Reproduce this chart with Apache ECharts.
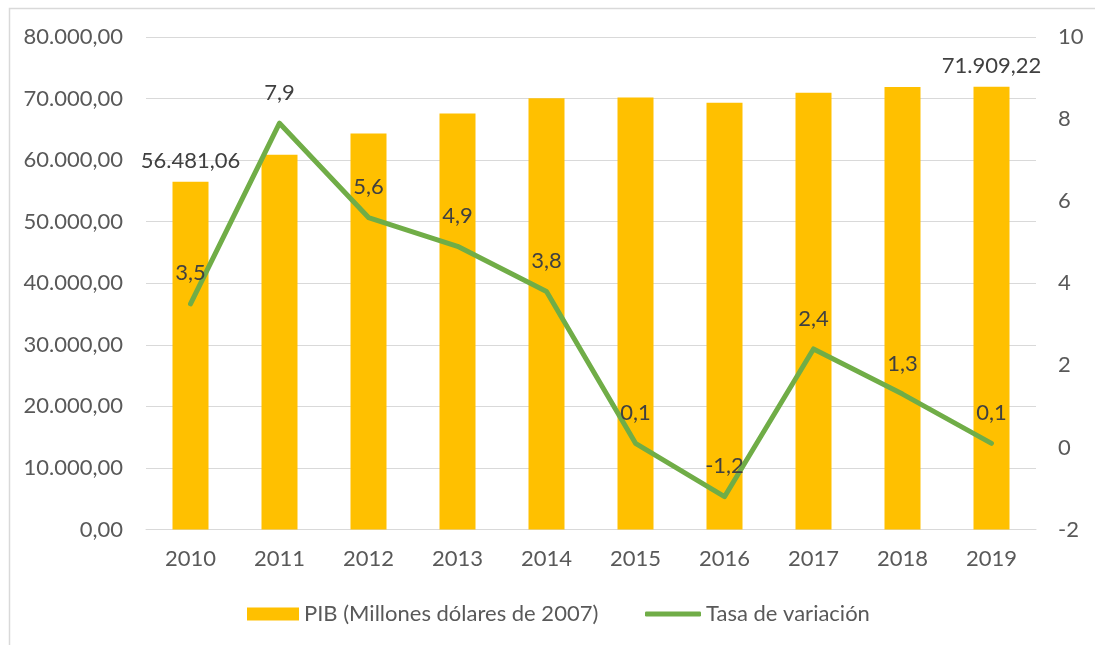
<!DOCTYPE html>
<html>
<head>
<meta charset="utf-8">
<script src="https://cdn.jsdelivr.net/npm/echarts@6/dist/echarts.min.js"></script>
<style>
html,body{margin:0;padding:0;background:#fff;}
#chart{width:1095px;height:645px;}
</style>
</head>
<body>
<div id="chart"></div>
<script>
const years = ['2010','2011','2012','2013','2014','2015','2016','2017','2018','2019'];
const pib = [56481.06, 60890, 64310, 67560, 70050, 70160, 69300, 70930, 71880, 71909.22];
const tasa = [3.5, 7.9, 5.6, 4.9, 3.8, 0.1, -1.2, 2.4, 1.3, 0.1];
const pibName = 'PIB (Millones dólares de 2007)';
const tasaName = 'Tasa de variación';

const FONT = 'Lato';
const FS = 22;

function fmtEs(v, dec) {
  const parts = Math.abs(v).toFixed(dec).split('.');
  const int = parts[0].replace(/\B(?=(\d{3})+(?!\d))/g, '.');
  return (v < 0 ? '-' : '') + int + (dec > 0 ? ',' + parts[1] : '');
}

const chart = echarts.init(document.getElementById('chart'), null, {renderer: 'canvas'});
const option = {
  backgroundColor: '#ffffff',
  animation: false,
  textStyle: {fontFamily: FONT},
  graphic: [{
    type: 'rect',
    shape: {x: 9.5, y: 8.5, width: 1100, height: 660},
    style: {fill: 'none', stroke: '#d9d9d9', lineWidth: 1.5},
    silent: true
  }],
  grid: {left: 146, right: 59, top: 37, bottom: 115.5, containLabel: false},
  legend: [{
    data: [{name: pibName, icon: 'rect'}],
    left: 247, top: 603, padding: 0,
    itemWidth: 52, itemHeight: 13,
    textStyle: {color: '#595959', fontSize: FS, fontFamily: FONT}
  }, {
    data: [{name: tasaName, icon: 'roundRect'}],
    left: 645, top: 603, padding: 0,
    itemWidth: 56, itemHeight: 5,
    textStyle: {color: '#595959', fontSize: FS, fontFamily: FONT}
  }],
  xAxis: {
    type: 'category',
    data: years,
    axisLine: {lineStyle: {color: '#d9d9d9', width: 1}},
    axisTick: {show: false},
    axisLabel: {color: '#595959', fontSize: FS, fontFamily: FONT, margin: 18}
  },
  yAxis: [{
    type: 'value', min: 0, max: 80000, interval: 10000,
    axisLine: {show: false}, axisTick: {show: false},
    splitLine: {lineStyle: {color: '#d9d9d9', width: 1}},
    axisLabel: {color: '#595959', fontSize: FS, fontFamily: FONT, margin: 23,
      formatter: v => fmtEs(v, 2)}
  }, {
    type: 'value', min: -2, max: 10, interval: 2,
    axisLine: {show: false}, axisTick: {show: false},
    splitLine: {show: false},
    axisLabel: {color: '#595959', fontSize: FS, fontFamily: FONT, margin: 22,
      formatter: v => fmtEs(v, 0)}
  }],
  series: [{
    name: pibName,
    type: 'bar',
    barWidth: 36,
    itemStyle: {color: '#FFC000'},
    label: {show: false, position: 'top', distance: 10, color: '#404040',
      fontSize: FS, fontFamily: FONT, formatter: p => fmtEs(p.value, 2)},
    data: pib.map((v, i) => (i === 0 || i === pib.length - 1) ? {value: v, label: {show: true}} : v)
  }, {
    name: tasaName,
    type: 'line',
    yAxisIndex: 1,
    symbol: 'circle',
    symbolSize: 1,
    itemStyle: {color: '#70AD47'},
    lineStyle: {color: '#70AD47', width: 5, cap: 'round', join: 'round'},
    label: {show: true, position: 'top', distance: 19, color: '#404040',
      fontSize: FS, fontFamily: FONT, formatter: p => fmtEs(p.value, 1)},
    data: tasa,
    z: 3
  }]
};
chart.setOption(option);
</script>
</body>
</html>
